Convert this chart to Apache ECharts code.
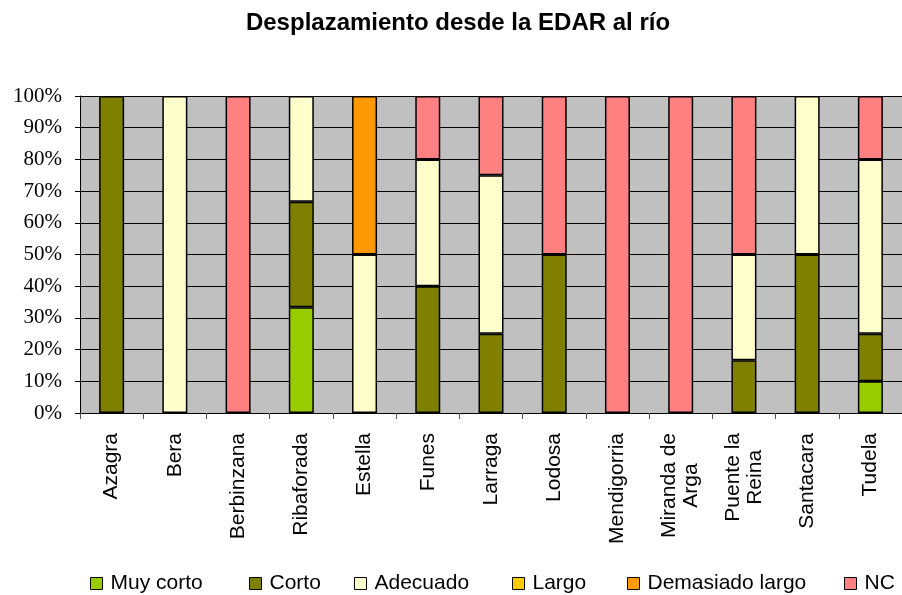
<!DOCTYPE html>
<html>
<head>
<meta charset="utf-8">
<script src="https://cdn.jsdelivr.net/npm/echarts@6/dist/echarts.min.js"></script>
<style>
  html, body { margin: 0; padding: 0; background: #fff; }
  #chart { width: 902px; height: 595px; }
</style>
</head>
<body>
<div id="chart"></div>
<script>
// Plantas (EDAR) en el eje de categorías
const categories = ['Azagra', 'Bera', 'Berbinzana', 'Ribaforada', 'Estella', 'Funes', 'Larraga',
  'Lodosa', 'Mendigorria', 'Miranda de\nArga', 'Puente la\nReina', 'Santacara', 'Tudela'];

// Porcentajes por categoría de desplazamiento (null = sin tramo)
const muyCorto       = [null, null, null, 33.33, null, null, null, null, null, null, null, null, 10];
const corto          = [100, null, null, 33.33, null, 40, 25, 50, null, null, 16.67, 50, 15];
const adecuado       = [null, 100, null, 33.34, 50, 40, 50, null, null, null, 33.33, 50, 55];
const largo          = [null, null, null, null, null, null, null, null, null, null, null, null, null];
const demasiadoLargo = [null, null, null, null, 50, null, null, null, null, null, null, null, null];
const nc             = [null, null, 100, null, null, 20, 25, 50, 100, 100, 50, null, 20];

const yTicks = { min: 0, max: 100, interval: 10 };

const seriesDefs = [
  { name: 'Muy corto', data: muyCorto, color: '#99CC00' },
  { name: 'Corto', data: corto, color: '#808000' },
  { name: 'Adecuado', data: adecuado, color: '#FFFFCC' },
  { name: 'Largo', data: largo, color: '#FFCC00' },
  { name: 'Demasiado largo', data: demasiadoLargo, color: '#FF9900' },
  { name: 'NC', data: nc, color: '#FF8080' }
];

// Posición horizontal de cada entrada de la leyenda
const legendLeft = [90, 249, 354, 512, 627, 844];

const chart = echarts.init(document.getElementById('chart'), null, { renderer: 'canvas' });

chart.setOption({
  animation: false,
  backgroundColor: '#ffffff',
  title: {
    text: 'Desplazamiento desde la EDAR al río',
    left: 458,
    textAlign: 'center',
    top: 11,
    padding: 0,
    textStyle: { fontFamily: 'Liberation Sans', fontWeight: 'bold', fontSize: 24, color: '#000' }
  },
  legend: seriesDefs.map((s, i) => ({
    data: [s.name],
    left: legendLeft[i],
    top: 573,
    padding: 0,
    icon: 'rect',
    itemWidth: 12,
    itemHeight: 12,
    selectedMode: false,
    itemStyle: { borderColor: '#000', borderWidth: 1 },
    textStyle: { fontFamily: 'Liberation Sans', fontSize: 21, color: '#000', padding: [0, 0, 0, 3] }
  })),
  grid: {
    left: 80,
    top: 96,
    width: 828,
    height: 317,
    show: true,
    backgroundColor: '#C0C0C0',
    borderWidth: 0
  },
  xAxis: {
    type: 'category',
    data: categories,
    axisLine: { show: true, lineStyle: { color: '#000', width: 1 } },
    axisTick: { show: true, length: 6, alignWithLabel: false, lineStyle: { color: '#555' } },
    axisLabel: {
      interval: 0,
      rotate: 90,
      margin: 20,
      fontFamily: 'Liberation Sans',
      fontSize: 21,
      color: '#000',
      lineHeight: 22,
      // each line centred within a two-line label block
      formatter: v => v.split('\n').map(line => '{c|' + line + '}').join('\n'),
      rich: {
        c: { align: 'center', fontFamily: 'Liberation Sans', fontSize: 21, color: '#000', lineHeight: 22 }
      }
    }
  },
  yAxis: {
    type: 'value',
    min: yTicks.min,
    max: yTicks.max,
    interval: yTicks.interval,
    axisLine: { show: true, lineStyle: { color: '#000', width: 1 } },
    axisTick: { show: true, length: 5, lineStyle: { color: '#000' } },
    splitLine: { show: true, lineStyle: { color: '#000', width: 1 } },
    axisLabel: {
      formatter: '{value}%',
      margin: 18,
      fontFamily: 'Liberation Serif',
      fontSize: 21,
      color: '#000'
    }
  },
  series: seriesDefs.map(s => ({
    name: s.name,
    type: 'bar',
    stack: 'total',
    barWidth: 25,
    data: s.data,
    itemStyle: { color: s.color, borderColor: '#000', borderWidth: 1.5 }
  }))
});
</script>
</body>
</html>
